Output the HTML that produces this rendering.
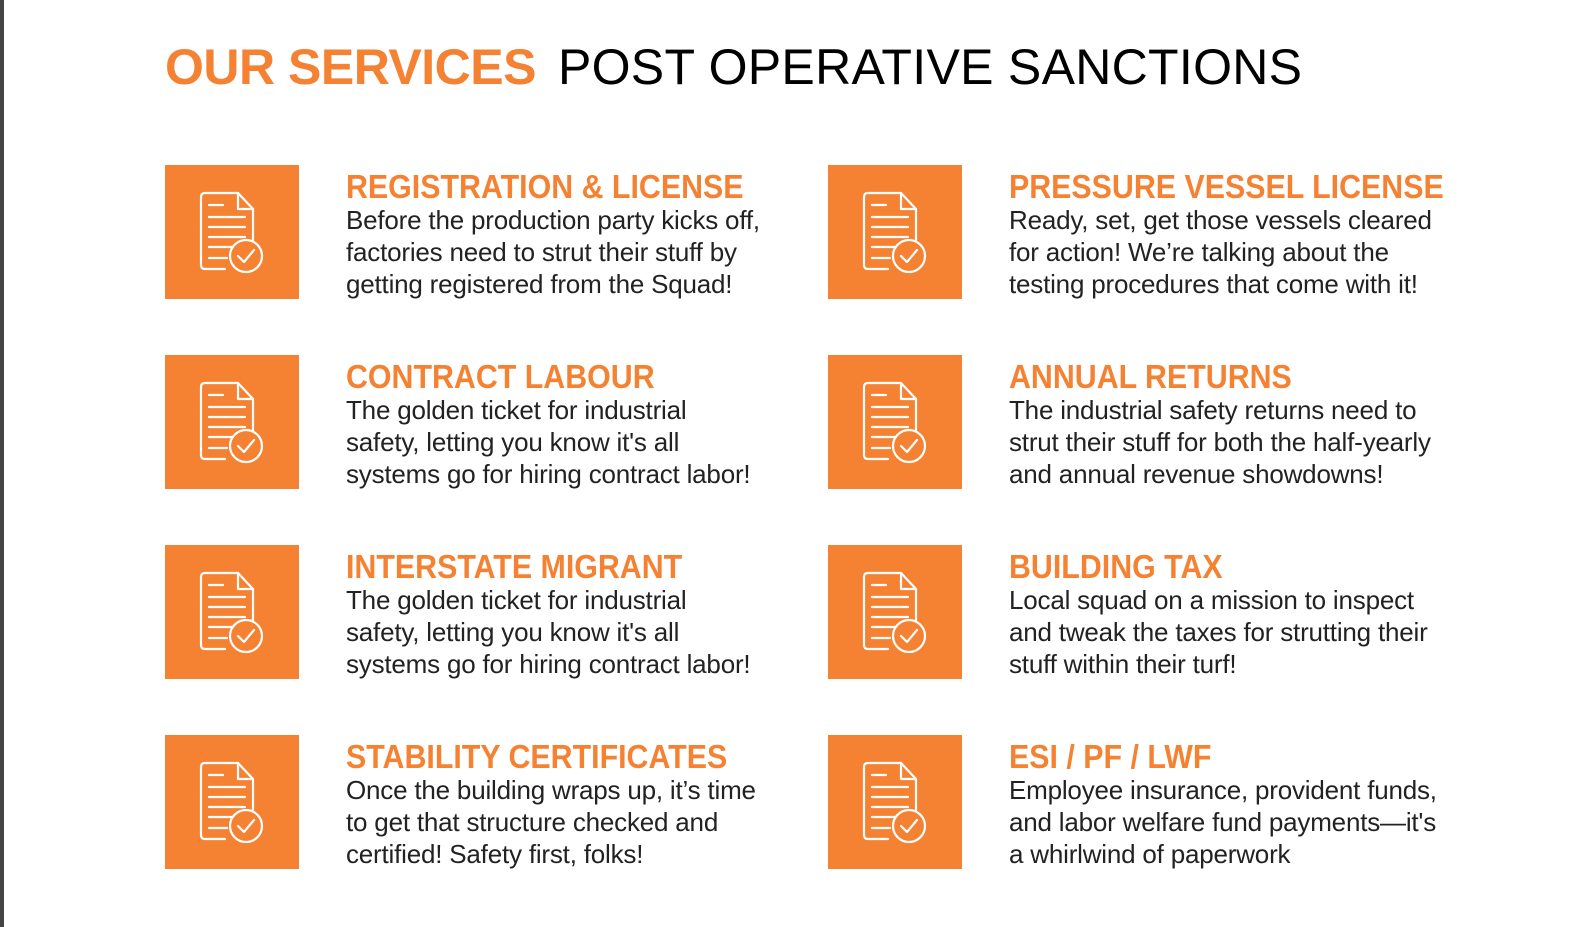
<!DOCTYPE html>
<html><head><meta charset="utf-8"><style>
*{margin:0;padding:0;box-sizing:border-box}
body{width:1592px;height:927px;background:#fff;position:relative;overflow:hidden;font-family:"Liberation Sans",sans-serif}
.bar{position:absolute;left:0;top:0;width:4px;height:927px;background:#444}
.title{position:absolute;left:165px;top:42px;font-size:50px;white-space:nowrap;line-height:1}
.title b{color:#F58232;font-weight:700;letter-spacing:-0.5px}
.title span{color:#000;margin-left:22px;letter-spacing:0.3px}
.box{position:absolute;width:134px;height:134px;background:#F58232}
.box svg{position:absolute;left:-4px;top:0}
.h{position:absolute;color:#F58232;font-weight:700;font-size:33px;white-space:nowrap;transform:scaleX(0.92);transform-origin:0 0;line-height:1}
.t{position:absolute;color:#222;font-size:26px;line-height:32px;white-space:nowrap;letter-spacing:-0.2px}
</style></head><body>
<div class="bar"></div>
<div class="title"><b>OUR SERVICES</b><span>POST OPERATIVE SANCTIONS</span></div>

<svg width="0" height="0" style="position:absolute"><defs>
<g id="ic" fill="none" stroke="#fff" stroke-width="2.2" stroke-linecap="round" stroke-linejoin="round">
<path d="M40 60 V32 Q40 28 44 28 H77 L92 44 V75"/>
<path d="M77 28 V44 H92"/>
<path d="M64 104 H44 Q40 104 40 100 V60"/>
<line x1="48" y1="40" x2="62" y2="40"/>
<line x1="48" y1="52" x2="84" y2="52"/>
<line x1="48" y1="62" x2="84" y2="62"/>
<line x1="48" y1="72" x2="84" y2="72"/>
<line x1="48" y1="82" x2="72" y2="82"/>
<line x1="48" y1="93" x2="66" y2="93"/>
<circle cx="85" cy="91" r="16"/>
<path d="M77 91 L83 97 L93 85"/>
</g></defs></svg>

<div class="box" style="left:165px;top:165px"><svg width="134" height="134"><use href="#ic"/></svg></div>
<div class="h" style="left:346px;top:170px">REGISTRATION &amp; LICENSE</div>
<div class="t" style="left:346px;top:204px">Before the production party kicks off,<br>factories need to strut their stuff by<br>getting registered from the Squad!</div>

<div class="box" style="left:165px;top:355px"><svg width="134" height="134"><use href="#ic"/></svg></div>
<div class="h" style="left:346px;top:360px">CONTRACT LABOUR</div>
<div class="t" style="left:346px;top:394px">The golden ticket for industrial<br>safety, letting you know it's all<br>systems go for hiring contract labor!</div>

<div class="box" style="left:165px;top:545px"><svg width="134" height="134"><use href="#ic"/></svg></div>
<div class="h" style="left:346px;top:550px">INTERSTATE MIGRANT</div>
<div class="t" style="left:346px;top:584px">The golden ticket for industrial<br>safety, letting you know it's all<br>systems go for hiring contract labor!</div>

<div class="box" style="left:165px;top:735px"><svg width="134" height="134"><use href="#ic"/></svg></div>
<div class="h" style="left:346px;top:740px">STABILITY CERTIFICATES</div>
<div class="t" style="left:346px;top:774px">Once the building wraps up, it’s time<br>to get that structure checked and<br>certified! Safety first, folks!</div>

<div class="box" style="left:828px;top:165px"><svg width="134" height="134"><use href="#ic"/></svg></div>
<div class="h" style="left:1009px;top:170px">PRESSURE VESSEL LICENSE</div>
<div class="t" style="left:1009px;top:204px">Ready, set, get those vessels cleared<br>for action! We’re talking about the<br>testing procedures that come with it!</div>

<div class="box" style="left:828px;top:355px"><svg width="134" height="134"><use href="#ic"/></svg></div>
<div class="h" style="left:1009px;top:360px">ANNUAL RETURNS</div>
<div class="t" style="left:1009px;top:394px">The industrial safety returns need to<br>strut their stuff for both the half-yearly<br>and annual revenue showdowns!</div>

<div class="box" style="left:828px;top:545px"><svg width="134" height="134"><use href="#ic"/></svg></div>
<div class="h" style="left:1009px;top:550px">BUILDING TAX</div>
<div class="t" style="left:1009px;top:584px">Local squad on a mission to inspect<br>and tweak the taxes for strutting their<br>stuff within their turf!</div>

<div class="box" style="left:828px;top:735px"><svg width="134" height="134"><use href="#ic"/></svg></div>
<div class="h" style="left:1009px;top:740px">ESI / PF / LWF</div>
<div class="t" style="left:1009px;top:774px">Employee insurance, provident funds,<br>and labor welfare fund payments—it's<br>a whirlwind of paperwork</div>
</body></html>
